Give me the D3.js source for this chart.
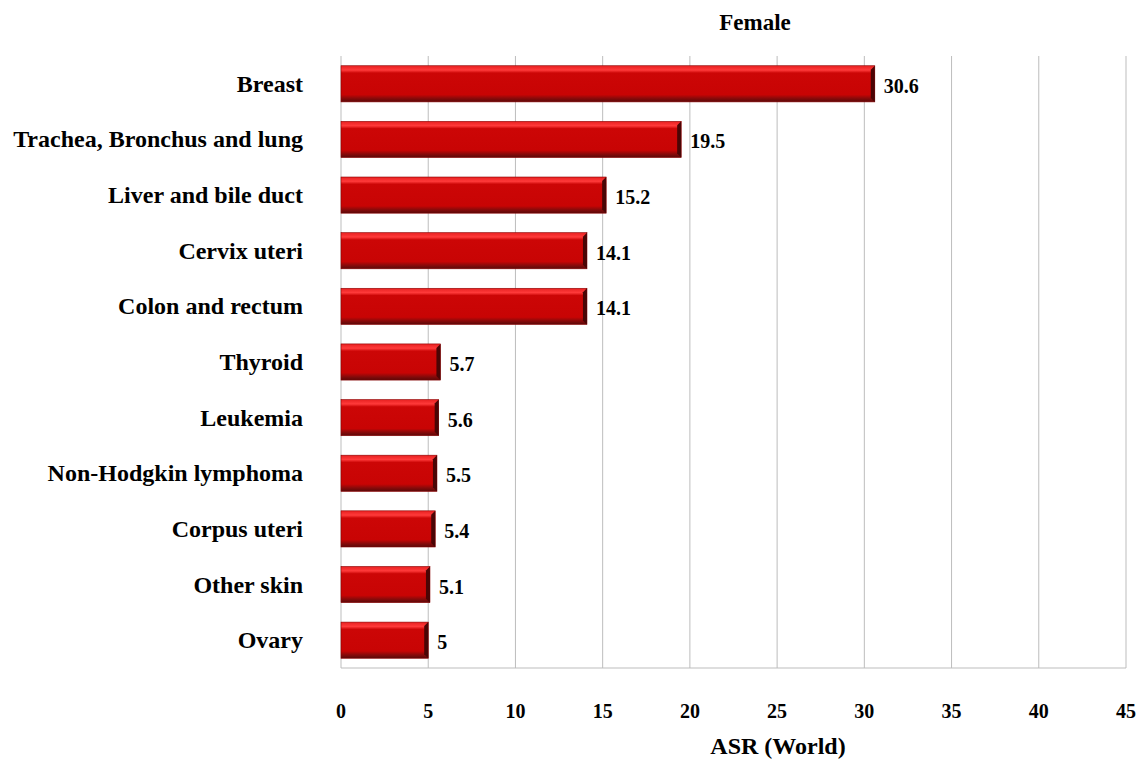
<!DOCTYPE html>
<html>
<head>
<meta charset="utf-8">
<script src="https://cdn.jsdelivr.net/npm/d3@7"></script>
<style>
  body { margin: 0; background: #fff; }
  text { font-family: "Liberation Serif", "Times New Roman", serif; font-weight: bold; }
</style>
</head>
<body>
<svg width="1144" height="762"></svg>
<script>
const categories = ["Breast", "Trachea, Bronchus and lung", "Liver and bile duct", "Cervix uteri",
  "Colon and rectum", "Thyroid", "Leukemia", "Non-Hodgkin lymphoma", "Corpus uteri", "Other skin", "Ovary"]
const values = [30.6, 19.5, 15.2, 14.1, 14.1, 5.7, 5.6, 5.5, 5.4, 5.1, 5]
const xTicks = [0, 5, 10, 15, 20, 25, 30, 35, 40, 45]

const svg = d3.select("svg")
const plotLeft = 341, plotRight = 1126, plotTop = 56, plotBottom = 668

const x = d3.scaleLinear().domain([0, 45]).range([plotLeft, plotRight])
const y = d3.scaleBand().domain(categories).range([plotTop, plotBottom]).paddingInner(0.35).paddingOuter(0.175)

// bar gradient (bevelled look)
const defs = svg.append("defs")
const grad = defs.append("linearGradient").attr("id", "barGrad")
  .attr("x1", 0).attr("y1", 0).attr("x2", 0).attr("y2", 1)
grad.append("stop").attr("offset", "0%").attr("stop-color", "#e82020")
grad.append("stop").attr("offset", "12%").attr("stop-color", "#ff3a3a")
grad.append("stop").attr("offset", "20%").attr("stop-color", "#cc0606")
grad.append("stop").attr("offset", "80%").attr("stop-color", "#c80404")
grad.append("stop").attr("offset", "90%").attr("stop-color", "#8a0a0a")
grad.append("stop").attr("offset", "100%").attr("stop-color", "#5a0808")

// grid
svg.append("g").selectAll("line")
  .data(xTicks)
  .enter().append("line")
  .attr("x1", d => x(d)).attr("x2", d => x(d))
  .attr("y1", plotTop).attr("y2", plotBottom)
  .attr("stroke", "#bdbdbd").attr("stroke-width", 1)

svg.append("line")
  .attr("x1", plotLeft).attr("x2", plotRight).attr("y1", plotBottom).attr("y2", plotBottom)
  .attr("stroke", "#bdbdbd")

// bars
const bars = svg.append("g").selectAll("g")
  .data(categories)
  .enter().append("g")

bars.append("rect")
  .attr("x", x(0))
  .attr("y", d => y(d))
  .attr("width", (d, i) => x(values[i]) - x(0))
  .attr("height", y.bandwidth())
  .attr("fill", "url(#barGrad)")
  .attr("stroke", "#8a0000").attr("stroke-width", 0.6)

// dark right bevel
bars.append("path")
  .attr("d", (d, i) => {
    const xe = x(values[i]), y0 = y(d), h = y.bandwidth()
    return `M${xe - 4},${y0 + 4} L${xe},${y0} L${xe},${y0 + h} L${xe - 4},${y0 + h - 4} Z`
  })
  .attr("fill", "#4a0505")

// value labels
bars.append("text")
  .attr("x", (d, i) => x(values[i]) + 9)
  .attr("y", d => y(d) + y.bandwidth() / 2 + 9)
  .attr("font-size", 20)
  .text((d, i) => values[i])

// category labels
svg.append("g").selectAll("text")
  .data(categories)
  .enter().append("text")
  .attr("x", 303)
  .attr("y", d => y(d) + y.bandwidth() / 2 + 8)
  .attr("text-anchor", "end")
  .attr("font-size", 24)
  .text(d => d)

// tick labels
svg.append("g").selectAll("text")
  .data(xTicks)
  .enter().append("text")
  .attr("x", d => x(d))
  .attr("y", 718)
  .attr("text-anchor", "middle")
  .attr("font-size", 20)
  .text(d => d)

svg.append("text")
  .attr("x", 778).attr("y", 754)
  .attr("text-anchor", "middle")
  .attr("font-size", 24)
  .text("ASR (World)")

svg.append("text")
  .attr("x", 755).attr("y", 30)
  .attr("text-anchor", "middle")
  .attr("font-size", 23)
  .text("Female")
</script>
</body>
</html>
